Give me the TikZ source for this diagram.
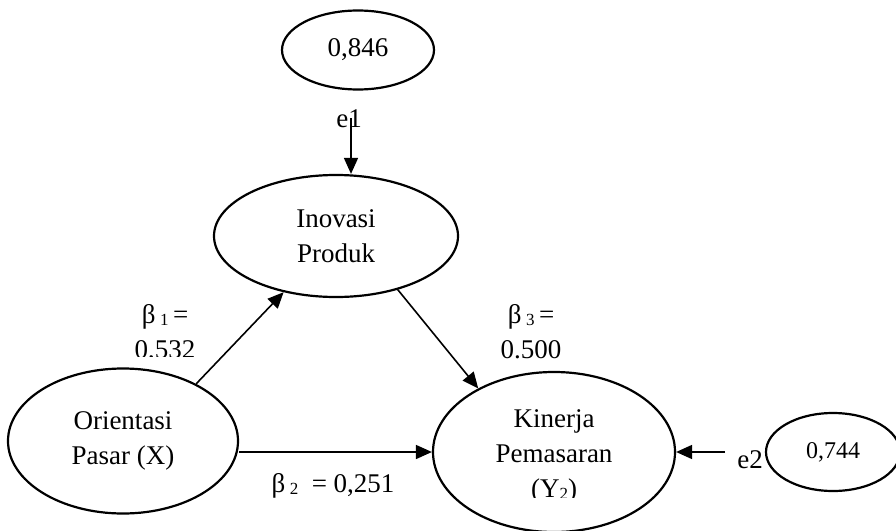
\documentclass[tikz,border=0pt]{standalone}
\usepackage{fontspec}
\setmainfont{Liberation Serif}
\usetikzlibrary{arrows.meta,shapes.geometric}
\newcommand{\sz}[1]{\fontsize{#1}{35}\selectfont}
\newcommand{\bsub}[1]{\raisebox{-2pt}{\fontsize{17}{17}\selectfont #1}}

\begin{document}
\begin{tikzpicture}[x=1pt,y=-1pt,
  var/.style={draw, ellipse, line width=2.2pt, inner sep=0pt, align=center, font=\sz{27}},
  lbl/.style={font=\sz{27}, inner sep=0pt, align=center},
  arr/.style={line width=1.6pt, -{Triangle[length=16pt,width=14pt]}}]
\useasboundingbox (0,0) rectangle (896,530);
\node[var, minimum width=152pt, minimum height=79pt] (r1) at (358,50) {0,846};
\node[var, minimum width=244pt, minimum height=122pt] (ino) at (336,236) {Inovasi\\Produk};
\node[var, minimum width=230pt, minimum height=145pt] (ori) at (123,441) {Orientasi\\Pasar (X)};
\node[var, minimum width=242pt, minimum height=160pt] (kin) at (554,452) {};
\node[var, minimum width=134pt, minimum height=78pt, font=\sz{24}] (r2) at (833,452) {0,744};
\begin{scope}
\clip (400,380) rectangle (700,497);
\node[lbl, anchor=north] (kintxt) at (554,409) {Kinerja\\Pemasaran\\(Y\bsub{2})};
\end{scope}
\begin{scope}
\clip (100,290) rectangle (240,356);
\node[lbl, anchor=north] (b1) at (165,304) {β\,\bsub{1}\,=\\0,532};
\end{scope}
\begin{scope}
\clip (470,290) rectangle (600,361);
\node[lbl, anchor=north] (b3) at (531,304) {β\,\bsub{3}\,=\\0.500};
\end{scope}
\node[lbl, anchor=base] (b2) at (333,492) {β\,\bsub{2}~ = 0,251};
\node[lbl, anchor=base] (e1) at (349,127) {e1};
\node[lbl, anchor=base] (e2) at (750,468) {e2};
\coordinate (e1a) at (351,118);
\coordinate (e2a) at (725,452);
\draw[arr] (e1a) -- (e1a |- ino.north);
\draw[arr] (ori.38) -- (ino.227);
\draw[arr] (ino.-41) -- (kin.140);
\draw[arr] (ori.east |- kin.west) -- (kin.west);
\draw[arr] (e2a) -- (kin.east);
\end{tikzpicture}
\end{document}
